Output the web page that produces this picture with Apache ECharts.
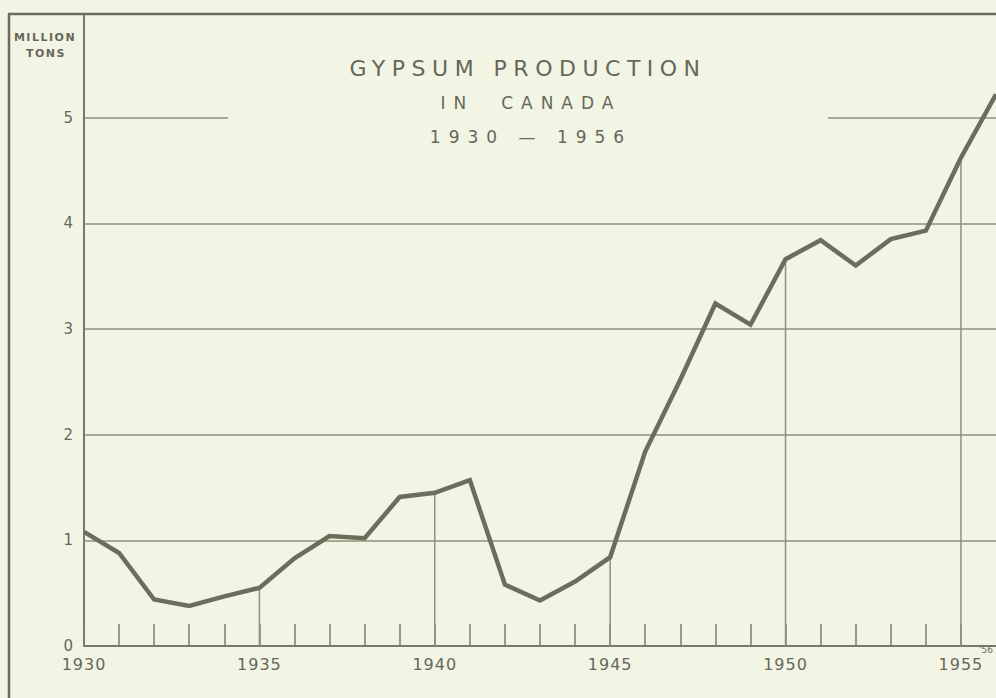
<!DOCTYPE html>
<html>
<head>
<meta charset="utf-8">
<script src="https://cdn.jsdelivr.net/npm/echarts@6/dist/echarts.min.js"></script>
<style>
  html, body { margin: 0; padding: 0; background: #f3f5e4; }
  #chart { width: 996px; height: 698px; }
  #chart svg text[style*="22px"] { letter-spacing: 6.5px; }
  #chart svg text[style*="17px"] { letter-spacing: 8px; }
  #chart svg text[style*="16px"] { letter-spacing: 1px; }
  #chart svg text[style*="11px"] { letter-spacing: 1.5px; }
</style>
</head>
<body>
<div id="chart"></div>
<script>
// ---- data ----
const years = [1930, 1931, 1932, 1933, 1934, 1935, 1936, 1937, 1938, 1939,
               1940, 1941, 1942, 1943, 1944, 1945, 1946, 1947, 1948, 1949,
               1950, 1951, 1952, 1953, 1954, 1955, 1956];
const production = [1.08, 0.88, 0.44, 0.38, 0.47, 0.55, 0.83, 1.04, 1.02, 1.41,
                    1.45, 1.57, 0.58, 0.43, 0.61, 0.84, 1.84, 2.52, 3.24, 3.04,
                    3.66, 3.84, 3.60, 3.85, 3.93, 4.62, 5.22];
const yTickLabels = [0, 1, 2, 3, 4, 5];
const xLabelYears = [1930, 1935, 1940, 1945, 1950, 1955];
const guideYears = [1935, 1940, 1945, 1950, 1955];
const lastYearLabel = "'56";
const titleText = 'GYPSUM PRODUCTION';
const subtitle1 = 'IN  CANADA';
const subtitle2 = '1930 — 1956';
const unitLine1 = 'MILLION';
const unitLine2 = 'TONS';

// ---- build ----
const lineData = years.map((y, i) => [y, production[i]]);
const guideData = years.map((y, i) => guideYears.includes(y) ? [y, production[i]] : null).filter(Boolean);

const ink = '#66675a';
const gridCol = '#8f917c';
const bg = '#f3f5e4';

const chart = echarts.init(document.getElementById('chart'), null, { renderer: 'svg' });
chart.setOption({
  backgroundColor: bg,
  animation: false,
  grid: { left: 84, right: -10, top: 14, bottom: 52, containLabel: false },
  xAxis: {
    type: 'value', min: 1930, max: 1956, interval: 1,
    axisLine: { show: true, lineStyle: { color: '#797a67', width: 2 } },
    axisTick: { show: true, inside: true, length: 22, lineStyle: { color: '#7d7e6b', width: 1.5 } },
    splitLine: { show: false },
    axisLabel: {
      margin: 10,
      color: ink,
      fontFamily: 'DejaVu Sans',
      fontSize: 16,
      showMinLabel: true,
      showMaxLabel: false,
      formatter: v => xLabelYears.includes(v) ? String(v) : ''
    }
  },
  yAxis: {
    type: 'value', min: 0, max: 5.98, interval: 1,
    axisLine: { show: true, lineStyle: { color: '#797a67', width: 2 } },
    axisTick: { show: false },
    splitLine: { show: true, lineStyle: { color: gridCol, width: 1.5 } },
    axisLabel: {
      margin: 11, color: ink, fontFamily: 'DejaVu Sans', fontSize: 15,
      formatter: v => yTickLabels.includes(v) ? String(v) : ''
    }
  },
  graphic: [
    { type: 'rect', z: 1, shape: { x: 228, y: 104, width: 600, height: 24 }, style: { fill: bg } },
    { type: 'line', z: 5, shape: { x1: 8, y1: 14, x2: 996, y2: 14 }, style: { stroke: '#6b6c5c', lineWidth: 2.5 } },
    { type: 'line', z: 5, shape: { x1: 9, y1: 14, x2: 9, y2: 698 }, style: { stroke: '#6b6c5c', lineWidth: 2.5 } },
    { type: 'text', z: 5, x: 528, y: 68, style: { text: titleText, fill: ink, font: '22px "DejaVu Sans"', textAlign: 'center', textVerticalAlign: 'middle' } },
    { type: 'text', z: 5, x: 531, y: 103, style: { text: subtitle1, fill: ink, font: '17px "DejaVu Sans"', textAlign: 'center', textVerticalAlign: 'middle' } },
    { type: 'text', z: 5, x: 531, y: 137, style: { text: subtitle2, fill: ink, font: '17px "DejaVu Sans"', textAlign: 'center', textVerticalAlign: 'middle' } },
    { type: 'text', z: 5, x: 45, y: 37, style: { text: unitLine1, fill: ink, font: 'bold 11px "DejaVu Sans"', textAlign: 'center', textVerticalAlign: 'middle' } },
    { type: 'text', z: 5, x: 46, y: 53, style: { text: unitLine2, fill: ink, font: 'bold 11px "DejaVu Sans"', textAlign: 'center', textVerticalAlign: 'middle' } },
    { type: 'text', z: 5, x: 979, y: 650, style: { text: lastYearLabel, fill: ink, font: '9px "DejaVu Sans"', textAlign: 'left', textVerticalAlign: 'middle' } }
  ],
  series: [
    {
      type: 'bar', data: guideData, barWidth: 1.5, z: 1, silent: true,
      itemStyle: { color: gridCol }
    },
    {
      type: 'line', data: lineData, showSymbol: false, symbol: 'none', z: 3,
      lineStyle: { color: '#6c6d5b', width: 4.5, join: 'miter' }
    }
  ]
});
</script>
</body>
</html>
